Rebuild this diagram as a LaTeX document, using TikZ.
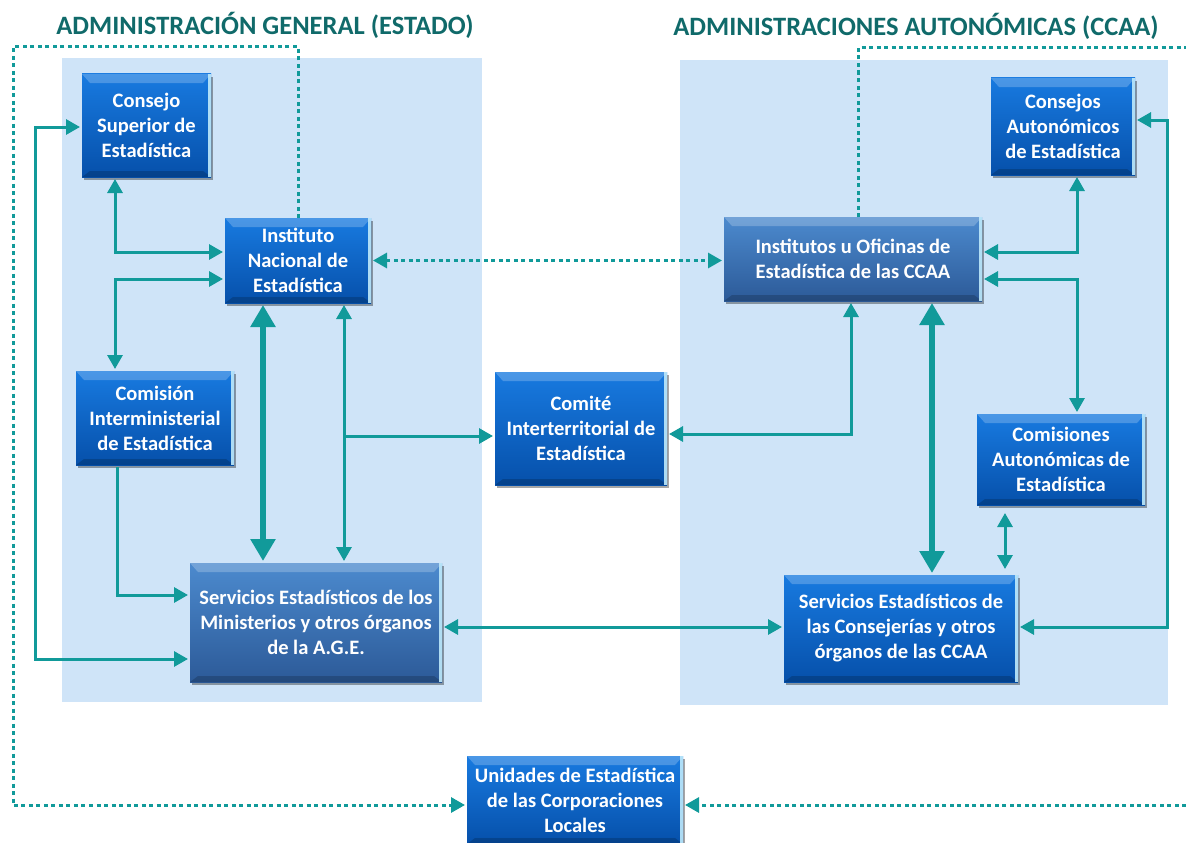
\documentclass[tikz,border=0pt]{standalone}
\usepackage{fontspec}
\setmainfont{Carlito}
\usetikzlibrary{arrows.meta,shadows,calc}
\definecolor{teal1}{RGB}{17,154,154}
\definecolor{titlec}{RGB}{16,106,106}
\definecolor{panel}{RGB}{207,228,248}
\definecolor{bluetop}{RGB}{24,122,224}
\definecolor{bluebot}{RGB}{6,80,170}
\definecolor{steeltop}{RGB}{76,138,206}
\definecolor{steelbot}{RGB}{44,90,152}
\begin{document}
\begin{tikzpicture}[x=1pt,y=-1pt,
  box/.style={rectangle, top color=bluetop, bottom color=bluebot, text=white,
    font=\bfseries\fontsize{20.5}{25}\selectfont, align=center, inner sep=0pt, outer sep=2pt,
    drop shadow={shadow xshift=1.5pt,shadow yshift=-3pt,opacity=0.35,fill=black},
    path picture={
      \fill[white,opacity=0.22] (path picture bounding box.north west) -- (path picture bounding box.north east)
        -- ([xshift=-8pt,yshift=-9pt]path picture bounding box.north east) -- ([xshift=8pt,yshift=-9pt]path picture bounding box.north west) -- cycle;
      \fill[black,opacity=0.18] (path picture bounding box.south west) -- (path picture bounding box.south east)
        -- ([xshift=-8pt,yshift=6pt]path picture bounding box.south east) -- ([xshift=8pt,yshift=6pt]path picture bounding box.south west) -- cycle;
      \fill[cyan!25!white,opacity=0.9] ([xshift=-3pt]path picture bounding box.north east) rectangle (path picture bounding box.south east);
    }},
  steel/.style={box, top color=steeltop, bottom color=steelbot},
  con/.style={draw=teal1, line width=3pt},
  tcon/.style={draw=teal1, line width=6.5pt},
  dot/.style={draw=teal1, line width=3pt, dash pattern=on 4pt off 3.5pt},
  arr/.style={-{Triangle[length=14pt,width=15pt]}},
  darr/.style={{Triangle[length=14pt,width=15pt]}-{Triangle[length=14pt,width=15pt]}},
  tdarr/.style={{Triangle[length=22pt,width=24pt]}-{Triangle[length=22pt,width=24pt]}},
  titlestyle/.style={text=titlec, font=\bfseries\fontsize{26.5}{30}\selectfont, inner sep=0pt}
]
\useasboundingbox (0,0) rectangle (1186,843);
% panels
\fill[panel] (62,58) rectangle (482,702);
\fill[panel] (680,60) rectangle (1168,705);
% titles
\node[titlestyle] (t1) at (265,25) {ADMINISTRACIÓN GENERAL (ESTADO)};
\node[titlestyle] (t2) at (916,26) {ADMINISTRACIONES AUTONÓMICAS (CCAA)};
% boxes
\node[box, minimum width=129pt, minimum height=103pt] (cons) at (146.5,125.5) {Consejo\\Superior de\\Estadística};
\node[box, minimum width=146pt, minimum height=85pt] (ine) at (298,260.5) {Instituto\\Nacional de\\Estadística};
\node[box, minimum width=158pt, minimum height=94pt] (comi) at (155,418) {Comisión\\Interministerial\\de Estadística};
\node[steel, minimum width=252pt, minimum height=119pt] (serv) at (316,622.5) {Servicios Estadísticos de los\\Ministerios y otros órganos\\de la A.G.E.};
\node[box, minimum width=172pt, minimum height=113pt] (comite) at (581,428.5) {Comité\\Interterritorial de\\Estadística};
\node[steel, minimum width=258pt, minimum height=84pt] (inst) at (853,259) {Institutos u Oficinas de\\Estadística de las CCAA};
\node[box, minimum width=144pt, minimum height=97pt] (cauto) at (1063,126.5) {Consejos\\Autonómicos\\de Estadística};
\node[box, minimum width=168pt, minimum height=91pt] (comis) at (1061,459.5) {Comisiones\\Autonómicas de\\Estadística};
\node[box, minimum width=234pt, minimum height=107pt] (servc) at (901,628.5) {Servicios Estadísticos de\\las Consejerías y otros\\órganos de las CCAA};
\node[box, minimum width=216pt, minimum height=88pt] (unid) at (575,800) {Unidades de Estadística\\de las Corporaciones\\Locales};
% coordinates
\coordinate (d1) at (13,47);
\coordinate (d2) at (858,48);
\coordinate (e1) at (1186,48);
\coordinate (e2) at (1186,805);
\coordinate (a1) at (115,252);
\coordinate (a2) at (115,279);
\coordinate (a3) at (117,595);
\coordinate (a4) at (35,127);
\coordinate (a5) at (35,659);
\coordinate (a6) at (263,0);
\coordinate (a7) at (344,436);
\coordinate (a8) at (600,627);
\coordinate (a9) at (851,434);
\coordinate (a10) at (932,0);
\coordinate (a11) at (1077,252);
\coordinate (a12) at (1077,279);
\coordinate (a13) at (1005,0);
\coordinate (a14) at (1167,120);
\coordinate (a15) at (1167,627);
% dotted connectors
\draw[dot,arr] ([yshift=-2pt]ine.north) |- (d1) |- (unid.west |- e2);
\draw[dot] ([yshift=-2pt]inst.north -| d2) |- (e1);
\draw[dot,arr] (e2) -- (unid.east |- e2);
\draw[dot,darr] (ine.east) -- (ine.east -| inst.west);
% solid connectors left
\draw[con,darr] (cons.south -| a1) |- (ine.west |- a1);
\draw[con,darr] (ine.west |- a2) -| (comi.north -| a2);
\draw[con,arr] (comi.south -| a3) |- (serv.west |- a3);
\draw[con,darr] (cons.west |- a4) -- (a4) -- (a5) -- (serv.west |- a5);
\draw[tcon,tdarr] (ine.south -| a6) -- (serv.north -| a6);
\draw[con,darr] (ine.south -| a7) -- (serv.north -| a7);
\draw[con,arr] (a7) -- (comite.west |- a7);
\draw[con,darr] (serv.east |- a8) -- (servc.west |- a8);
% solid connectors right
\draw[con,darr] (inst.south -| a9) |- (comite.east |- a9);
\draw[tcon,tdarr] (inst.south -| a10) -- (servc.north -| a10);
\draw[con,darr] (cauto.south -| a11) |- (inst.east |- a11);
\draw[con,darr] (inst.east |- a12) -| (comis.north -| a12);
\draw[con,darr,shorten <=6pt,shorten >=4pt] (comis.south -| a13) -- (servc.north -| a13);
\draw[con,darr] (cauto.east |- a14) -- (a14) -- (a15) -- (servc.east |- a15);
\end{tikzpicture}
\end{document}
